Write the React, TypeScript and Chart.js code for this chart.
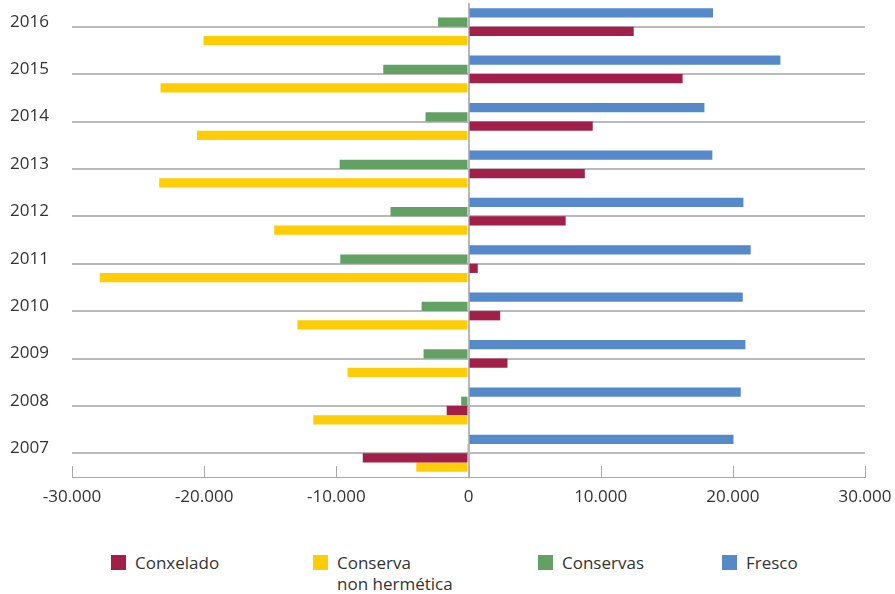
import React, { useEffect, useRef } from "react";
import { Chart, registerables } from "chart.js";

Chart.register(...registerables);

const years = ["2016", "2015", "2014", "2013", "2012", "2011", "2010", "2009", "2008", "2007"];
const fresco = [18500, 23600, 17850, 18450, 20800, 21350, 20750, 20950, 20600, 20050];
const conservas = [-2300, -6450, -3250, -9750, -5900, -9700, -3550, -3400, -550, -100];
const conxelado = [12500, 16200, 9400, 8800, 7350, 700, 2400, 2950, -1650, -8000];
const conservaNH = [-20050, -23300, -20550, -23400, -14700, -27900, -12950, -9150, -11750, -3950];
const xTickLabels = ["-30.000", "-20.000", "-10.000", "0", "10.000", "20.000", "30.000"];

const COLORS = {
  conxelado: "#A21F4A",
  conservaNH: "#FFCD05",
  conservas: "#62A063",
  fresco: "#5589C9",
};

const FONT = "'Open Sans', 'Noto Sans', sans-serif";

const upTicks = {
  id: "upTicks",
  afterDatasetsDraw(chart: any) {
    const { ctx, chartArea, scales } = chart;
    const xs = scales.x;
    ctx.save();
    ctx.strokeStyle = "#a8a8a8";
    ctx.lineWidth = 1;
    xs.ticks.forEach((t: any) => {
      const px = Math.round(xs.getPixelForValue(t.value)) + 0.5;
      ctx.beginPath();
      ctx.moveTo(px, chartArea.bottom);
      ctx.lineTo(px, chartArea.bottom - 11);
      ctx.stroke();
    });
    ctx.restore();
  },
};

export default function App() {
  const ref = useRef<HTMLCanvasElement>(null);

  useEffect(() => {
    if (!ref.current) return;
    const chart = new Chart(ref.current, {
      type: "bar",
      data: {
        labels: years,
        datasets: [
          { label: "Fresco", data: fresco, backgroundColor: COLORS.fresco },
          { label: "Conservas", data: conservas, backgroundColor: COLORS.conservas },
          { label: "Conxelado", data: conxelado, backgroundColor: COLORS.conxelado },
          { label: "Conserva non hermética", data: conservaNH, backgroundColor: COLORS.conservaNH },
        ],
      },
      options: {
        indexAxis: "y",
        responsive: false,
        animation: false,
        events: [],
        layout: { padding: { top: 3, right: 30, bottom: 13, left: 0 } },
        datasets: {
          bar: { categoryPercentage: 0.78, barPercentage: 1, borderWidth: 0 },
        },
        plugins: {
          legend: { display: false },
          tooltip: { enabled: false },
        },
        scales: {
          x: {
            min: -30000,
            max: 30000,
            afterFit: (s: any) => {
              s.paddingLeft = 0;
              s.paddingRight = 0;
              s.height = 30;
            },
            ticks: {
              stepSize: 10000,
              padding: 10,
              color: "#333",
              font: { family: FONT, size: 17, weight: "normal" },
              callback: (_v: any, i: number) => xTickLabels[i],
            },
            grid: {
              drawTicks: false,
              lineWidth: 2,
              color: (c: any) => (c.tick && c.tick.value === 0 ? "#b8b8b8" : "rgba(0,0,0,0)"),
            },
            border: { display: true, color: "#a8a8a8", width: 1 },
          },
          y: {
            type: "category",
            afterFit: (s: any) => {
              s.width = 72;
              s.paddingTop = 0;
              s.paddingBottom = 0;
            },
            ticks: {
              padding: 23,
              labelOffset: -5,
              color: "#333",
              font: { family: FONT, size: 17, weight: "normal" },
            },
            grid: {
              offset: false,
              drawTicks: false,
              lineWidth: 2,
              color: "#bababa",
            },
            border: { display: false },
          },
        },
      },
      plugins: [upTicks],
    });
    return () => chart.destroy();
  }, []);

  const legendItems = [
    { label: ["Conxelado"], color: COLORS.conxelado, x: 111 },
    { label: ["Conserva", "non hermética"], color: COLORS.conservaNH, x: 313 },
    { label: ["Conservas"], color: COLORS.conservas, x: 538 },
    { label: ["Fresco"], color: COLORS.fresco, x: 722 },
  ];

  return (
    <div style={{ position: "absolute", left: 0, top: 0, width: 895, height: 594, background: "#fff", fontFamily: FONT }}>
      <canvas ref={ref} width={895} height={520} style={{ display: "block" }} />
      {legendItems.map((it) => (
        <div key={it.label[0]} style={{ position: "absolute", left: it.x, top: 555 }}>
          <div style={{ position: "absolute", left: 0, top: 0, width: 15, height: 15, background: it.color }} />
          <div style={{ position: "absolute", left: 24, top: -3, fontSize: 17, fontWeight: 400, lineHeight: "21px", color: "#333", whiteSpace: "nowrap" }}>
            {it.label.map((l) => (
              <div key={l}>{l}</div>
            ))}
          </div>
        </div>
      ))}
    </div>
  );
}
